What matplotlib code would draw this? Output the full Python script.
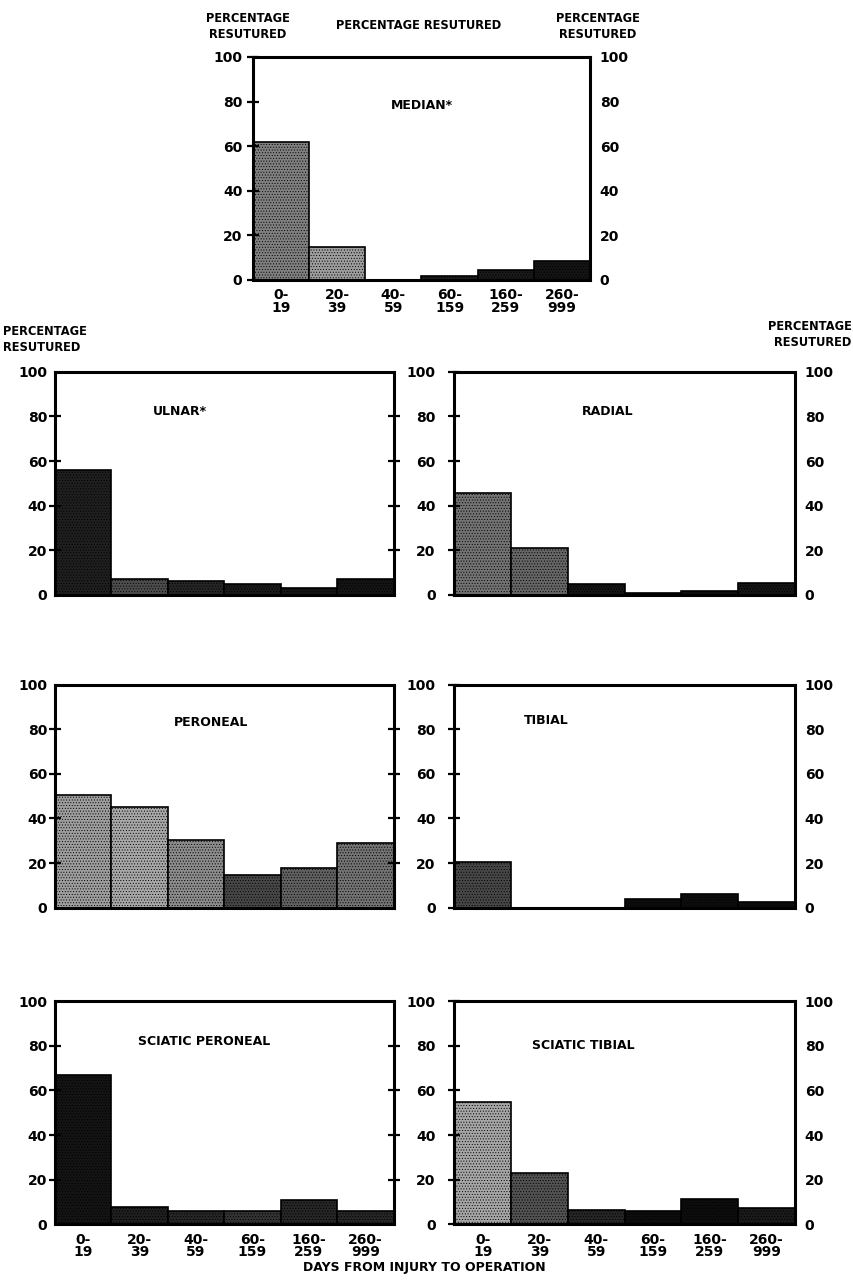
import numpy as np
import matplotlib
matplotlib.use('Agg')
import matplotlib.pyplot as plt

plt.rcParams['font.family'] = ['DejaVu Sans']
plt.rcParams['font.weight'] = 'bold'
plt.rcParams['hatch.linewidth'] = 0.4

# интервалы (дни от травмы до операции)
day_groups = ['0-\n19', '20-\n39', '40-\n59', '60-\n159', '160-\n259', '260-\n999']

# процент повторно сшитых нервов по интервалам
median = [62, 15, 0, 2, 4.5, 8.5]
ulnar = [56, 7.3, 6.3, 4.7, 2.9, 6.9]
radial = [45.5, 20.8, 5, 1, 1.8, 5.5]
peroneal = [50.5, 45, 30.3, 14.5, 18, 28.8]
tibial = [20.3, 0, 0, 4, 6, 2.5]
sciatic_peroneal = [67, 7.9, 6.1, 6.1, 10.7, 6.1]
sciatic_tibial = [55, 23, 6.6, 5.8, 11.5, 7.4]

y_ticks = [0, 20, 40, 60, 80, 100]
ylabel_text = 'PERCENTAGE\nRESUTURED'

# оттенки заливки столбиков (0 - черный, 1 - белый)
shades = {
    'median': [0.5, 0.62, 0.5, 0.12, 0.1, 0.08],
    'ulnar': [0.12, 0.3, 0.15, 0.1, 0.08, 0.08],
    'radial': [0.45, 0.4, 0.08, 0.06, 0.06, 0.08],
    'peroneal': [0.62, 0.66, 0.55, 0.28, 0.38, 0.45],
    'tibial': [0.28, 0.1, 0.1, 0.05, 0.05, 0.05],
    'sciatic_peroneal': [0.08, 0.12, 0.15, 0.2, 0.15, 0.15],
    'sciatic_tibial': [0.65, 0.32, 0.15, 0.05, 0.05, 0.1],
}

TICK_FS = 10
LABEL_FS = 8.3
TITLE_FS = 9


def draw_panel(fig, rect, values, shade, title, title_pos,
               right_labels=False, left_pad=1, right_pad=7, xlabels=False):
    """
    построение одной панели: столбики по интервалам, рамка, двусторонние засечки
    """
    ax = fig.add_axes(rect)
    x = np.arange(len(values))
    ax.bar(x, values, width=1.0, align='center',
           color=[str(s) for s in shade], edgecolor='black', linewidth=1.2,
           hatch='......')
    ax.set_xlim(-0.5, len(values) - 0.5)
    ax.set_ylim(0, 100)

    for sp in ax.spines.values():
        sp.set_linewidth(2.2)

    ax.set_yticks(y_ticks)
    ax.tick_params(axis='y', which='major', direction='inout', length=9, width=1.6,
                   left=True, right=True, labelleft=True, labelright=False,
                   labelsize=TICK_FS, pad=left_pad)
    for t in (ax.yaxis.get_major_ticks()[0], ax.yaxis.get_major_ticks()[-1]):
        t.tick1line.set_visible(False)
        t.tick2line.set_visible(False)

    # подписи справа - через вторую ось, чтобы отступ был свой
    if right_labels:
        ax2 = ax.twinx()
        ax2.set_ylim(0, 100)
        ax2.set_yticks(y_ticks)
        ax2.tick_params(axis='y', length=0, labelsize=TICK_FS, pad=right_pad)
        for sp in ax2.spines.values():
            sp.set_visible(False)

    ax.set_xticks(x)
    if xlabels:
        ax.set_xticklabels(day_groups, fontsize=TICK_FS, linespacing=0.85)
        ax.tick_params(axis='x', length=0, pad=6)
    else:
        ax.tick_params(axis='x', length=0, labelbottom=False)

    ax.text(title_pos[0], title_pos[1], title, transform=ax.transAxes,
            ha='center', va='center', fontsize=TITLE_FS, fontweight='bold')
    return ax


def main():
    fig = plt.figure(figsize=(8.54, 12.82), dpi=100)

    left_col = [0.064, 0.397]
    right_col = [0.532, 0.399]
    rows = [0.536, 0.292, 0.045]
    h = 0.174

    draw_panel(fig, [0.296, 0.7816, 0.395, 0.174], median, shades['median'],
               'MEDIAN*', (0.5, 0.78), right_labels=True, left_pad=3, xlabels=True)

    draw_panel(fig, [left_col[0], rows[0], left_col[1], h], ulnar, shades['ulnar'],
               'ULNAR*', (0.37, 0.82))
    draw_panel(fig, [right_col[0], rows[0], right_col[1], h], radial,
               shades['radial'], 'RADIAL', (0.45, 0.82), right_labels=True, left_pad=9)

    draw_panel(fig, [left_col[0], rows[1], left_col[1], h], peroneal, shades['peroneal'],
               'PERONEAL', (0.46, 0.83))
    draw_panel(fig, [right_col[0], rows[1], right_col[1], h], tibial, shades['tibial'],
               'TIBIAL', (0.27, 0.84), right_labels=True, left_pad=9)

    draw_panel(fig, [left_col[0], rows[2], left_col[1], h], sciatic_peroneal,
               shades['sciatic_peroneal'], 'SCIATIC PERONEAL', (0.44, 0.82), xlabels=True)
    draw_panel(fig, [right_col[0], rows[2], right_col[1], h], sciatic_tibial,
               shades['sciatic_tibial'], 'SCIATIC TIBIAL', (0.38, 0.80),
               right_labels=True, left_pad=9, xlabels=True)

    # подписи осей
    fig.text(0.29, 0.979, ylabel_text, ha='center', va='center', fontsize=LABEL_FS,
             linespacing=1.3)
    fig.text(0.49, 0.980, 'PERCENTAGE RESUTURED', ha='center', va='center',
             fontsize=LABEL_FS)
    fig.text(0.70, 0.979, ylabel_text, ha='center', va='center', fontsize=LABEL_FS,
             linespacing=1.3)
    fig.text(0.004, 0.735, ylabel_text, ha='left', va='center', fontsize=LABEL_FS,
             linespacing=1.3)
    fig.text(0.997, 0.739, ylabel_text, ha='right', va='center', fontsize=LABEL_FS,
             linespacing=1.3)
    fig.text(0.497, 0.011, 'DAYS FROM INJURY TO OPERATION', ha='center', va='center',
             fontsize=LABEL_FS + 0.7)

    fig.savefig('out.png', dpi=100, facecolor='white')


if __name__ == '__main__':
    main()
